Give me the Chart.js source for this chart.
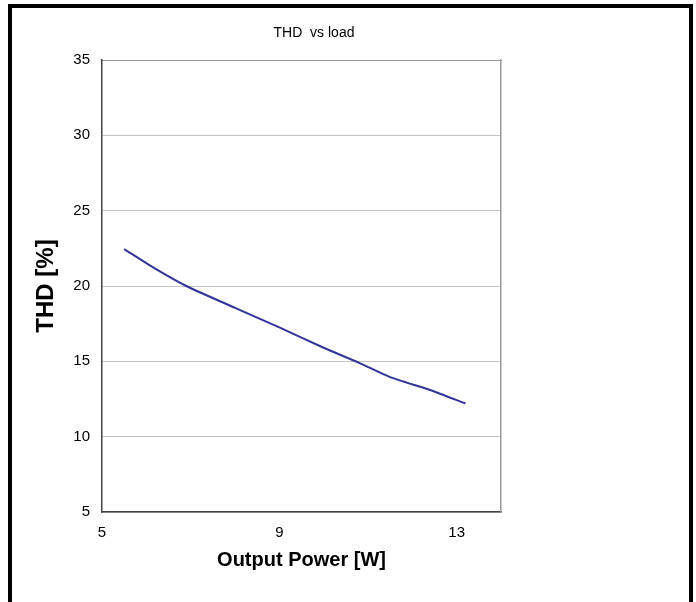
<!DOCTYPE html>
<html>
<head>
<meta charset="utf-8">
<script src="https://cdn.jsdelivr.net/npm/chart.js@4/dist/chart.umd.min.js"></script>
<style>
  html, body { margin: 0; padding: 0; background: #fff; }
  #wrap { position: relative; width: 696px; height: 602px; overflow: hidden; }
  #frame {
    position: absolute; left: 8px; top: 4px; width: 677px; height: 620px;
    border: 4px solid #000; pointer-events: none;
  }
  canvas { position: absolute; left: 0; top: 0; }
</style>
</head>
<body>
<div id="wrap">
  <canvas id="thdChart" width="696" height="602"></canvas>
  <div id="frame"></div>
</div>
<script>
// values
const outputPower = [5.5, 6.2, 6.9, 8.0, 9.0, 10.0, 10.8, 11.5, 12.4, 13.2];
const thd = [22.45, 21.15, 20.0, 18.55, 17.25, 15.9, 14.9, 13.95, 13.1, 12.2];
const xTicks = [5, 9, 13];
const yTicks = [5, 10, 15, 20, 25, 30, 35];

const FONT = "'Liberation Sans', Arial, sans-serif";

const titlePlugin = {
    id: "plotTitle",
    afterDraw(chart) {
        const ctx = chart.ctx;
        ctx.save();
        ctx.font = "14px " + FONT;
        ctx.fillStyle = "#000";
        ctx.textAlign = "center";
        ctx.textBaseline = "middle";
        ctx.fillText("THD  vs load", 314, 33);
        ctx.restore();
    }
};

new Chart(document.getElementById("thdChart").getContext("2d"), {
    type: "line",
    data: {
        datasets: [{
            data: outputPower.map((x, i) => ({ x, y: thd[i] })),
            borderColor: "#333399",
            borderWidth: 2,
            pointRadius: 0,
            tension: 0.2,
            fill: false
        }]
    },
    options: {
        responsive: false,
        animation: false,
        layout: { padding: { left: 0, right: 195, top: 60, bottom: 30 } },
        plugins: { legend: { display: false }, tooltip: { enabled: false } },
        scales: {
            x: {
                type: "linear",
                min: 5,
                max: 14,
                afterBuildTicks: s => { s.ticks = xTicks.map(v => ({ value: v })); },
                afterFit: s => { s.height = 60; },
                grid: { display: false, drawTicks: false },
                border: { color: "#444", width: 1.5 },
                ticks: { padding: 12, color: "#000", font: { family: FONT, size: 15 } },
                title: {
                    display: true,
                    text: "Output Power [W]",
                    color: "#000",
                    padding: 0,
                    font: { family: FONT, size: 20, weight: "bold" }
                }
            },
            x2: {
                type: "linear",
                position: "top",
                min: 5,
                max: 14,
                afterFit: s => { s.height = 0; },
                grid: { display: false, drawTicks: false },
                ticks: { display: false },
                border: { color: "#9a9a9a", width: 1 }
            },
            y: {
                min: 5,
                max: 35,
                afterBuildTicks: s => { s.ticks = yTicks.map(v => ({ value: v })); },
                afterFit: s => { s.width = 102; },
                grid: { color: "#c4c4c4", lineWidth: 1, drawTicks: false },
                border: { color: "#444", width: 1.5 },
                ticks: { padding: 12, color: "#000", font: { family: FONT, size: 15 } },
                title: {
                    display: true,
                    text: "THD [%]",
                    color: "#000",
                    padding: { top: 32, bottom: 0 },
                    font: { family: FONT, size: 24, weight: "bold" }
                }
            },
            y2: {
                position: "right",
                min: 5,
                max: 35,
                afterFit: s => { s.width = 0; },
                grid: { display: false, drawTicks: false },
                ticks: { display: false },
                border: { color: "#9a9a9a", width: 1.5 }
            }
        }
    },
    plugins: [titlePlugin]
});
</script>
</body>
</html>
